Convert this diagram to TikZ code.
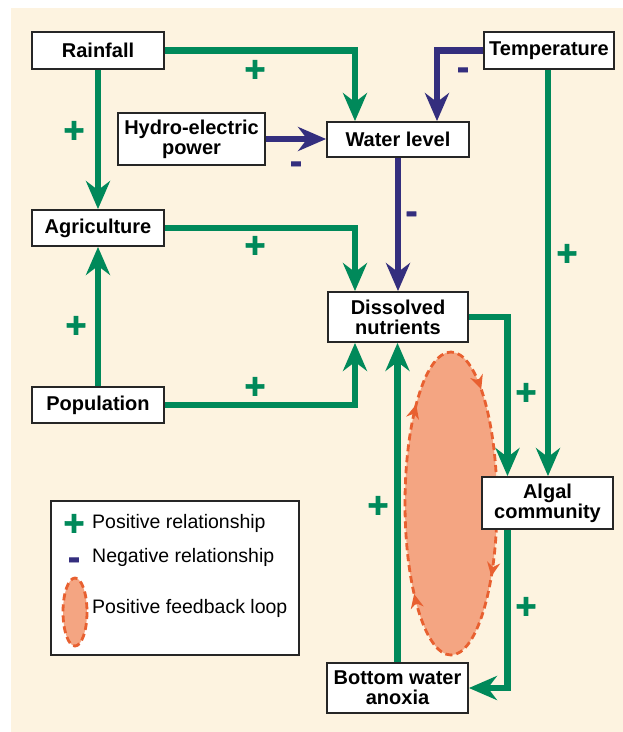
\documentclass[tikz,border=0pt]{standalone}
\usepackage{fontspec}
\setmainfont{Liberation Sans}
\newfontfamily\signfont[FakeBold=2]{Liberation Sans Bold}
\usetikzlibrary{arrows.meta, decorations.markings}
\definecolor{grn}{RGB}{0,137,90}
\definecolor{navy}{RGB}{52,46,126}
\definecolor{salmon}{RGB}{244,165,130}
\definecolor{loopred}{RGB}{232,96,48}
\definecolor{cream}{RGB}{253,243,224}

\begin{document}
\begin{tikzpicture}[x=1pt, y=-1pt,
    box/.style={draw=black!85, fill=white, line width=1.8pt, inner sep=0pt, align=center, font=\bfseries\fontsize{20}{20}\selectfont},
    poslink/.style={draw=grn, line width=6.5pt, -{Stealth[length=28pt, width=24pt, inset=9pt]}},
    neglink/.style={poslink, draw=navy},
    plussign/.style={text=grn, inner sep=0pt, text height=24.6pt, text depth=0pt, font=\signfont\fontsize{36}{36}\selectfont},
    minussign/.style={plussign, text=navy},
    loopfill/.style={fill=salmon, draw=loopred, line width=2.8pt, dash pattern=on 7pt off 4pt},
    looptip/.tip={Stealth[length=14pt, width=13pt]},
    legtext/.style={anchor=west, inner sep=0pt, font=\fontsize{19.5}{20}\selectfont}]
    \useasboundingbox (0,0) rectangle (623,732);
    % Fundo
    \fill[white] (0,0) rectangle (623,732);
    \fill[cream] (11,8) rectangle (623,732);

    % Laco de realimentacao
    \draw[loopfill, postaction={decorate, decoration={markings,
        mark=at position 0.11 with {\arrow[loopred]{looptip}},
        mark=at position 0.363 with {\arrow[loopred]{looptip}},
        mark=at position 0.65 with {\arrow[loopred]{looptip}},
        mark=at position 0.826 with {\arrow[loopred]{looptip}}}}]
        (451,503.5) ellipse [x radius=46, y radius=151.5];

    % Caixas
    \node[box, minimum width=132, minimum height=37] (Rain) at (98,50.5) {Rainfall};
    \node[box, minimum width=130, minimum height=37] (Temp) at (549,50.5) {Temperature};
    \node[box, minimum width=147, minimum height=52] (Hydro) at (191.5,139) {Hydro-electric\\power};
    \node[box, minimum width=142, minimum height=35] (Water) at (398,139.5) {Water level};
    \node[box, minimum width=132, minimum height=36] (Agri) at (98,228) {Agriculture};
    \node[box, minimum width=140, minimum height=50] (Nutr) at (398,317) {Dissolved\\nutrients};
    \node[box, minimum width=132, minimum height=36] (Pop) at (98,405) {Population};
    \node[box, minimum width=131, minimum height=52] (Algae) at (547.5,503) {Algal\\community};
    \node[box, minimum width=141, minimum height=50] (Anox) at (397.5,688) {Bottom water\\anoxia};

    % Setas positivas
    \draw[poslink] (Rain.east) -| ([xshift=-43pt]Water.north);
    \draw[poslink] (Rain.south) -- (Agri.north);
    \draw[poslink] (Agri.east) -| ([xshift=-43pt]Nutr.north);
    \draw[poslink] (Pop.north) -- (Agri.south);
    \draw[poslink] (Pop.east) -| ([xshift=-43pt]Nutr.south);
    \draw[poslink] ([xshift=-1pt]Temp.south) -- ([xshift=-1pt]Temp.south |- Algae.north);
    \draw[poslink] (Nutr.east) -| ([xshift=-40pt]Algae.north);
    \draw[poslink] ([xshift=-40pt]Algae.south) |- (Anox.east);
    \draw[poslink] (Anox.north) -- (Anox.north |- Nutr.south);

    % Setas negativas
    \draw[neglink] (Temp.west) -| ([xshift=39pt]Water.north);
    \draw[neglink] (Hydro.east) -- (Hydro.east -| Water.west);
    \draw[neglink] (Water.south) -- (Nutr.north);

    % Sinais
    \node[plussign] (s1) at (255,69) {+};
    \node[plussign] (s2) at (74,130) {+};
    \node[plussign] (s3) at (255,245) {+};
    \node[plussign] (s4) at (76,325) {+};
    \node[plussign] (s5) at (255,386) {+};
    \node[plussign] (s6) at (567,253) {+};
    \node[plussign] (s7) at (526,392) {+};
    \node[plussign] (s8) at (526,606) {+};
    \node[plussign] (s9) at (378,505) {+};
    \node[minussign] (m1) at (463,67) {-};
    \node[minussign] (m2) at (296,161) {-};
    \node[minussign] (m3) at (411.5,211) {-};

    % Legenda
    \node[draw=black!85, fill=white, line width=1.8pt, minimum width=248, minimum height=154] (Leg) at (175,578) {};
    \node[plussign] (lp) at (74,523) {+};
    \node[legtext] (lpt) at (92,523) {Positive relationship};
    \node[minussign] (lm) at (74,557) {-};
    \node[legtext] (lmt) at (92,557) {Negative relationship};
    \draw[loopfill] (75,612) ellipse [x radius=12, y radius=34];
    \node[legtext] (llt) at (92,608) {Positive feedback loop};
\end{tikzpicture}
\end{document}
